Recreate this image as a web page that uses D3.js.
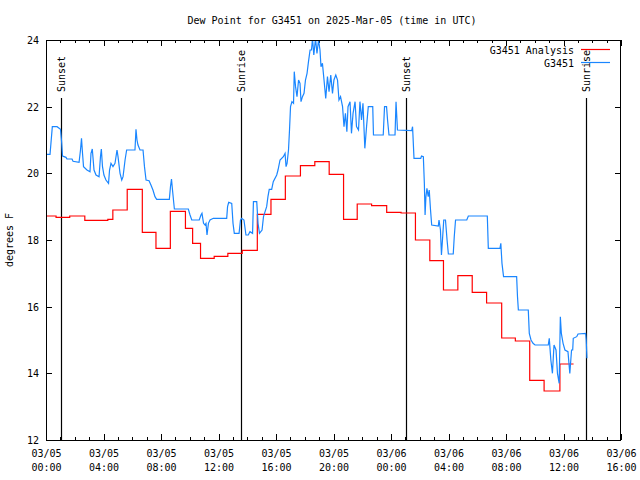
<!DOCTYPE html>
<html>
<head>
<meta charset="utf-8">
<script src="https://cdn.jsdelivr.net/npm/d3@7"></script>
<style>
  body { margin: 0; background: #fff; }
  text { font-family: "DejaVu Sans Mono", monospace; font-size: 10px; fill: #000; }
</style>
</head>
<body>
<div id="chart"></div>
<script>
// hours after 2025-03-05 00:00 UTC, and dew point (F)
const obsHours = [0, 0.28, 0.44, 0.77, 1.01, 1.09, 1.15, 1.39, 1.46, 1.81,
  1.88, 2.30, 2.40, 2.47, 2.54, 2.61, 2.85, 3.06, 3.13, 3.22,
  3.34, 3.48, 3.69, 3.79, 3.85, 3.93, 4.03, 4.17, 4.35, 4.42,
  4.52, 4.66, 4.80, 4.94, 5.01, 5.15, 5.27, 5.36, 5.50, 5.61,
  6.19, 6.26, 6.33, 6.40, 6.54, 6.75, 6.85, 6.96, 7.17, 7.30,
  7.44, 7.58, 7.70, 8.58, 8.66, 8.73, 8.80, 8.93, 9.90, 10.02,
  10.14, 10.66, 10.78, 10.85, 10.96, 11.06, 11.13, 11.20, 11.30, 11.41,
  11.64, 12.57, 12.63, 12.71, 12.92, 13.01, 13.10, 13.43, 13.53, 13.61,
  13.77, 13.91, 14.07, 14.19, 14.37, 14.43, 14.66, 14.75, 14.85, 15.03,
  15.13, 15.35, 15.44, 15.53, 15.70, 15.81, 16.05, 16.14, 16.28, 16.51,
  16.63, 16.70, 16.77, 16.87, 16.94, 17.01, 17.11, 17.22, 17.27, 17.36,
  17.46, 17.57, 17.67, 17.74, 17.84, 17.95, 18.05, 18.16, 18.26, 18.37,
  18.47, 18.54, 18.63, 18.75, 18.85, 18.96, 19.06, 19.13, 19.23, 19.34,
  19.46, 19.58, 19.69, 19.81, 19.93, 20.03, 20.16, 20.28, 20.38, 20.49,
  20.63, 20.73, 20.83, 20.93, 21.01, 21.15, 21.25, 21.36, 21.50, 21.60,
  21.74, 21.84, 21.95, 22.05, 22.18, 22.30, 22.42, 22.73, 22.78, 23.46,
  23.55, 23.69, 23.76, 23.86, 24.28, 24.35, 24.45, 25.44, 25.50, 25.60,
  26.07, 26.12, 26.25, 26.32, 26.37, 26.43, 26.50, 26.59, 26.66, 26.75,
  26.83, 27.29, 27.34, 27.44, 27.51, 27.58, 27.67, 27.79, 27.90, 27.99,
  28.33, 28.40, 28.49, 29.27, 29.38, 30.70, 30.77, 31.58, 31.64, 31.72,
  31.83, 32.74, 32.80, 32.86, 33.55, 33.62, 33.74, 33.88, 34.02, 34.94,
  35.01, 35.12, 35.23, 35.34, 35.48, 35.58, 35.70, 35.78, 35.85, 35.97,
  36.10, 36.31, 36.44, 36.56, 36.64, 36.68, 36.92, 37.01, 37.54, 37.58,
  37.63];
const obsDew = [20.57, 20.57, 21.4, 21.4, 21.32, 20.92, 20.52, 20.48, 20.43, 20.43,
  20.36, 20.33, 20.7, 21.05, 20.6, 20.2, 20.1, 20.05, 20.6, 20.73,
  20.1, 19.95, 19.9, 20.5, 20.73, 20.2, 19.95, 19.8, 19.7, 20.1,
  20.3, 20.2, 20.3, 20.7, 20.5, 20.0, 19.8, 19.9, 20.4, 20.7,
  20.7, 21.32, 21.0, 20.85, 20.7, 20.7, 20.2, 19.8, 19.78, 19.65,
  19.5, 19.3, 19.22, 19.22, 19.6, 19.83, 19.5, 18.93, 18.93, 18.75,
  18.6, 18.6, 18.75, 18.8, 18.5, 18.45, 18.5, 18.15, 18.5, 18.6,
  18.65, 18.65, 19.0, 19.13, 19.1, 18.5, 18.2, 18.2, 18.6, 18.65,
  18.6, 18.15, 18.15, 18.25, 18.2, 19.15, 19.15, 18.5, 18.2, 18.3,
  18.7, 19.0, 19.3, 19.52, 19.52, 19.75, 19.95, 20.1, 20.4, 20.5,
  20.6, 20.2, 20.3, 20.7, 21.3, 22.0, 22.15, 22.1, 23.05, 22.6,
  22.3, 22.8, 22.7, 22.15, 22.3, 22.4, 22.8, 23.0, 23.35, 23.7,
  23.7, 24.05, 23.55, 24.05, 23.6, 24.0, 23.7, 23.2, 23.3, 22.8,
  22.25, 22.9, 22.45, 22.95, 22.4, 22.8, 22.95, 22.8, 22.2, 22.3,
  22.0, 21.4, 21.8, 21.25, 22.0, 22.15, 21.2, 21.8, 22.15, 21.4,
  21.3, 22.15, 21.6, 22.1, 20.75, 21.4, 22.0, 22.0, 21.15, 21.15,
  22.0, 22.0, 21.6, 21.15, 21.15, 22.15, 21.3, 21.28, 21.4, 20.45,
  20.45, 20.52, 20.5, 19.7, 18.75, 19.3, 19.55, 19.3, 19.5, 18.9,
  18.45, 18.42, 18.6, 18.3, 17.55, 18.0, 18.6, 18.6, 18.0, 17.58,
  17.58, 18.1, 18.6, 18.6, 18.72, 18.72, 17.75, 17.75, 17.9, 17.3,
  16.9, 16.9, 16.3, 15.9, 15.9, 15.2, 15.0, 14.9, 14.85, 14.85,
  15.05, 14.4, 14.0, 14.85, 14.7, 14.0, 13.7, 15.7, 15.2, 14.9,
  14.7, 14.65, 14.0, 14.7, 14.7, 15.05, 15.1, 15.18, 15.2, 15.0,
  14.45];

const anaHours = [0, 0.7, 1.65, 2.7, 4.3, 4.65, 5.65, 6.7, 7.65, 8.65,
  9.7, 10.2, 10.75, 11.7, 12.65, 13.65, 14.7, 15.65, 16.65, 17.7,
  18.7, 19.7, 20.7, 21.65, 22.65, 23.7, 24.7, 25.7, 26.7, 27.65,
  28.65, 29.65, 30.65, 31.7, 32.65, 33.65, 34.65, 35.75, 36.7];
const anaDew = [18.72, 18.68, 18.72, 18.59, 18.62, 18.9, 19.52, 18.23, 17.75, 18.86,
  18.35, 17.9, 17.45, 17.51, 17.6, 17.69, 18.77, 19.22, 19.92, 20.23,
  20.35, 19.97, 18.62, 19.08, 19.03, 18.83, 18.81, 18.0, 17.38, 16.5,
  16.93, 16.43, 16.11, 15.06, 14.97, 13.79, 13.47, 14.28, 14.28];

const sunHours = [1.04, 13.57, 25.04, 37.57];
const sunLabels = ["Sunset", "Sunrise", "Sunset", "Sunrise"];
const yTicks = [12, 14, 16, 18, 20, 22, 24];
const seriesNames = ["G3451 Analysis", "G3451"];

function init() {
  const width = 640, height = 480;
  const left = 46, right = 621, top = 40, bottom = 440;
  const colors = ["#ff0000", "#1a86ff"];

  const t0 = Date.UTC(2025, 2, 5, 0, 0);
  const toDate = h => new Date(t0 + h * 3600e3);

  const svg = d3.select("#chart")
    .append("svg")
    .attr("width", width)
    .attr("height", height)
    .style("background", "#fff");

  const x = d3.scaleUtc()
    .domain([toDate(0), toDate(40)])
    .range([left, right]);
  const y = d3.scaleLinear()
    .domain([12, 24])
    .range([bottom, top]);

  // title
  svg.append("text")
    .attr("x", 332)
    .attr("y", 24)
    .attr("text-anchor", "middle")
    .text("Dew Point for G3451 on 2025-Mar-05 (time in UTC)");

  // y axis label
  svg.append("text")
    .attr("transform", `translate(13,${(top + bottom) / 2}) rotate(-90)`)
    .attr("text-anchor", "middle")
    .text("degrees F");

  // minor ticks every hour, bottom and top
  svg.append("g")
    .attr("transform", `translate(0,${bottom})`)
    .call(d3.axisBottom(x).ticks(d3.utcHour.every(1)).tickSize(-3).tickSizeOuter(0).tickFormat(""))
    .call(g => g.select(".domain").remove());
  svg.append("g")
    .attr("transform", `translate(0,${top})`)
    .call(d3.axisTop(x).ticks(d3.utcHour.every(1)).tickSize(-3).tickSizeOuter(0).tickFormat(""))
    .call(g => g.select(".domain").remove());

  // major ticks every 4 hours
  const fmtDay = d3.utcFormat("%m/%d"), fmtTime = d3.utcFormat("%H:%M");
  svg.append("g")
    .attr("transform", `translate(0,${bottom})`)
    .call(d3.axisBottom(x).ticks(d3.utcHour.every(4)).tickSize(-6).tickSizeOuter(0))
    .call(g => g.select(".domain").remove())
    .call(g => g.selectAll(".tick text").each(function(d) {
      const t = d3.select(this).attr("dy", null).attr("y", null).text("");
      t.append("tspan").attr("x", 0).attr("y", 17).text(fmtDay(d));
      t.append("tspan").attr("x", 0).attr("y", 31).text(fmtTime(d));
    }));
  svg.append("g")
    .attr("transform", `translate(0,${top})`)
    .call(d3.axisTop(x).ticks(d3.utcHour.every(4)).tickSize(-6).tickSizeOuter(0).tickFormat(""))
    .call(g => g.select(".domain").remove());

  svg.append("g")
    .attr("transform", `translate(${left},0)`)
    .call(d3.axisLeft(y).tickValues(yTicks).tickSize(-6).tickSizeOuter(0).tickPadding(7))
    .call(g => g.select(".domain").remove())
    .call(g => g.selectAll(".tick text").attr("dy", "0.35em"));
  svg.append("g")
    .attr("transform", `translate(${right},0)`)
    .call(d3.axisRight(y).tickValues(yTicks).tickSize(-6).tickSizeOuter(0).tickFormat(""))
    .call(g => g.select(".domain").remove());

  svg.selectAll(".tick line").attr("stroke", "#000").attr("shape-rendering", "crispEdges");
  svg.selectAll(".tick text").style("font-family", "DejaVu Sans Mono").style("font-size", "10px").attr("fill", "#000");

  // sunrise / sunset markers
  const sun = svg.selectAll(".sun")
    .data(sunHours)
    .join("g")
    .attr("class", "sun");
  sun.append("line")
    .attr("x1", d => Math.round(x(toDate(d))) + 0.5)
    .attr("x2", d => Math.round(x(toDate(d))) + 0.5)
    .attr("y1", 98)
    .attr("y2", bottom)
    .attr("stroke", "#000")
    .attr("stroke-width", 1.2);
  sun.append("text")
    .attr("transform", d => `translate(${Math.round(x(toDate(d))) + 0.5},92) rotate(-90)`)
    .attr("dominant-baseline", "central")
    .text((d, i) => sunLabels[i]);

  // data lines
  svg.append("clipPath")
    .attr("id", "plotclip")
    .append("rect")
    .attr("x", left).attr("y", top)
    .attr("width", right - left).attr("height", bottom - top);

  const ana = anaHours.map((h, i) => [toDate(h), anaDew[i]]);
  const obs = obsHours.map((h, i) => [toDate(h), obsDew[i]]);

  svg.append("path")
    .datum(ana)
    .attr("clip-path", "url(#plotclip)")
    .attr("fill", "none")
    .attr("stroke", colors[0])
    .attr("stroke-width", 1.2)
    .attr("d", d3.line().curve(d3.curveStepAfter).x(d => x(d[0])).y(d => y(d[1])));

  svg.append("path")
    .datum(obs)
    .attr("clip-path", "url(#plotclip)")
    .attr("fill", "none")
    .attr("stroke", colors[1])
    .attr("stroke-width", 1.2)
    .attr("d", d3.line().x(d => x(d[0])).y(d => y(d[1])));

  // legend
  const legend = svg.selectAll(".legend")
    .data(seriesNames)
    .join("g")
    .attr("class", "legend")
    .attr("transform", (d, i) => `translate(0,${50 + i * 13})`);
  legend.append("text")
    .attr("x", 574)
    .attr("text-anchor", "end")
    .attr("dominant-baseline", "central")
    .text(d => d);
  legend.append("line")
    .attr("x1", 581).attr("x2", 610)
    .attr("y1", -0.5).attr("y2", -0.5)
    .attr("stroke", (d, i) => colors[i])
    .attr("stroke-width", 1.2);

  // border
  svg.append("rect")
    .attr("x", left + 0.5).attr("y", top + 0.5)
    .attr("width", right - left - 1).attr("height", bottom - top)
    .attr("fill", "none")
    .attr("stroke", "#000")
    .attr("shape-rendering", "crispEdges");
}

window.onload = init;
</script>
</body>
</html>
